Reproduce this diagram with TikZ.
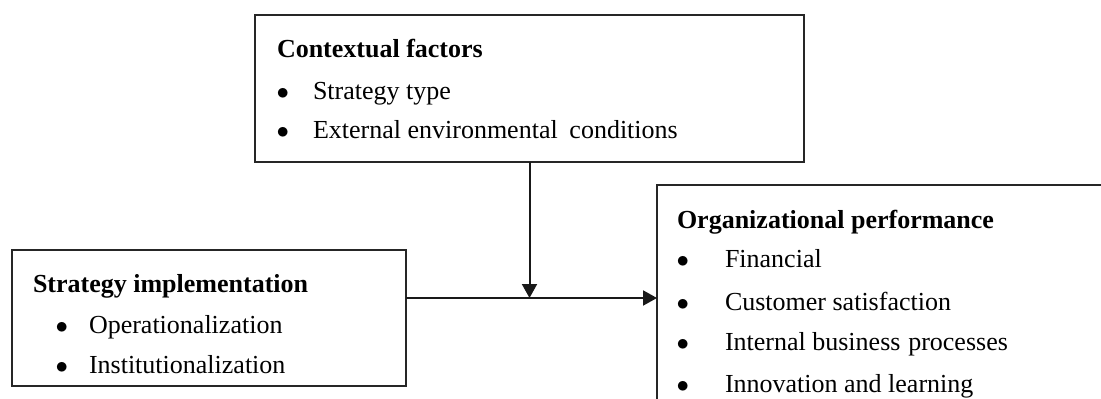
\documentclass[tikz,border=0pt]{standalone}
\usepackage{fontspec}
\setmainfont{Liberation Serif}
\usetikzlibrary{arrows.meta}
\begin{document}
\begin{tikzpicture}[x=1pt,y=-1pt,
  box/.style={draw=black!85,line width=2pt,inner sep=0pt,outer sep=0pt,anchor=north west,rectangle},
  txt/.style={inner sep=0pt,outer sep=0pt,anchor=base west,font=\fontsize{26}{30}\selectfont},
  head/.style={txt,font=\fontsize{26}{30}\selectfont\bfseries},
  bul/.style={txt,font=\fontsize{34}{34}\selectfont},
  conn/.style={line width=2pt,draw=black!90,-{Triangle[length=14pt,width=15pt]}}]
\useasboundingbox (0,0) rectangle (1101,399);
\clip (0,0) rectangle (1101,399);
\fill[white] (0,0) rectangle (1101,399);
% boxes
\node[box,minimum width=549pt,minimum height=147pt] (ctx) at (255,15) {};
\node[box,minimum width=394pt,minimum height=136pt] (si) at (12,250) {};
\node[box,minimum width=480pt,minimum height=260pt] (op) at (657,185) {};
% contextual factors
\node[head] (ctxh) at (277,57) {Contextual factors};
\node[bul] (ctxb1) at (276.5,99) {$\bullet$};
\node[txt] (ctxt1) at (313,99) {Strategy type};
\node[bul] (ctxb2) at (276.5,138) {$\bullet$};
\node[txt] (ctxt2) at (313,138) {External environmental\hspace{0.2em} conditions};
% strategy implementation
\node[head] (sih) at (33,292) {Strategy implementation};
\node[bul] (sib1) at (55.5,333) {$\bullet$};
\node[txt] (sit1) at (89,333) {Operationalization};
\node[bul] (sib2) at (55.5,373) {$\bullet$};
\node[txt] (sit2) at (89,373) {Institutionalization};
% organizational performance
\node[head] (oph) at (677,228) {Organizational performance};
\node[bul] (opb1) at (676.5,267) {$\bullet$};
\node[txt] (opt1) at (725,267) {Financial};
\node[bul] (opb2) at (676.5,310) {$\bullet$};
\node[txt] (opt2) at (725,310) {Customer satisfaction};
\node[bul] (opb3) at (676.5,350) {$\bullet$};
\node[txt] (opt3) at (725,350) {Internal business\hspace{0.05em} processes};
\node[bul] (opb4) at (676.5,392) {$\bullet$};
\node[txt] (opt4) at (725,392) {Innovation and learning};
% connectors
\coordinate (j) at (ctx.south |- 0,298);
\draw[conn] (si.east |- j) -- (op.west |- j);
\draw[conn] (ctx.south) -- (j);
\end{tikzpicture}
\end{document}
